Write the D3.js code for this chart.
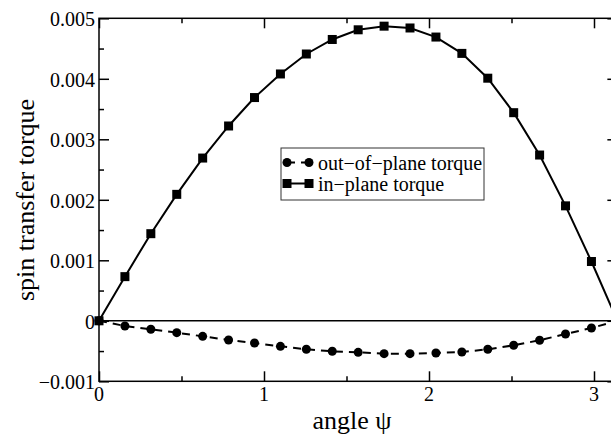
<!DOCTYPE html>
<html>
<head>
<meta charset="utf-8">
<script src="https://cdn.jsdelivr.net/npm/d3@7"></script>
<style>
	body{margin:0;background:#fff;}
	svg{display:block;font-family:'Liberation Serif',serif;}
	.axis path{display:none;}
	.axis line{stroke:#000;stroke-width:1.5;}
	.tick-label{font-size:20px;fill:#000;}
</style>
</head>
<body>
<div id="chart"></div>
<script>
//data, 21 angles from 0 to pi
const angles = d3.range(21).map(i => i*Math.PI/20);
const inPlane = [0,0.00073,0.00144,0.00209,0.00269,0.00322,0.00369,0.00408,0.00441,0.00465,0.00481,0.00487,0.00484,0.00469,0.00442,0.00401,0.00344,0.00274,0.00190,0.00098,0];
const outOfPlane = [0,-0.000086,-0.00014,-0.000196,-0.000257,-0.000317,-0.000367,-0.000422,-0.000471,-0.000504,-0.000521,-0.000543,-0.000543,-0.000532,-0.000516,-0.000471,-0.000405,-0.000322,-0.000218,-0.000119,0];
const seriesNames = ['out\u2212of\u2212plane torque','in\u2212plane torque'];
const xTicks = [0,1,2,3];
const yTicks = [-0.001,0,0.001,0.002,0.003,0.004,0.005];

const width = 611, height = 434;
const margin = {t:18.3,l:99};

const scaleX = d3.scaleLinear().domain([0,Math.PI]).range([margin.l, margin.l + 165*Math.PI]);
const scaleY = d3.scaleLinear().domain([-0.001,0.005]).range([381.3, margin.t]);
const x0 = scaleX.range()[0], x1 = scaleX.range()[1];
const y0 = scaleY.range()[0], y1 = scaleY.range()[1];

const svg = d3.select('#chart').append('svg')
	.attr('width',width)
	.attr('height',height);

//minor ticks every half step
const xMinor = d3.range(0.5,3.2,1);
const yMinor = d3.range(-0.0005,0.005,0.001);
const fmtY = d => d === 0 ? '0' : d3.format('.3f')(d);

//Axes: ticks inward on all four sides, labels drawn separately
const addAxis = (axis, tr) => svg.append('g').attr('class','axis').attr('transform',tr).call(axis.tickFormat(''));

addAxis(d3.axisBottom(scaleX).tickValues(xTicks).tickSize(-10), `translate(0,${y0})`);
addAxis(d3.axisBottom(scaleX).tickValues(xMinor).tickSize(-5), `translate(0,${y0})`);
addAxis(d3.axisTop(scaleX).tickValues(xTicks).tickSize(-10), `translate(0,${y1})`);
addAxis(d3.axisTop(scaleX).tickValues(xMinor).tickSize(-5), `translate(0,${y1})`);
addAxis(d3.axisLeft(scaleY).tickValues(yTicks).tickSize(-10), `translate(${x0},0)`);
addAxis(d3.axisLeft(scaleY).tickValues(yMinor).tickSize(-5), `translate(${x0},0)`);
addAxis(d3.axisRight(scaleY).tickValues(yTicks).tickSize(-10), `translate(${x1},0)`);
addAxis(d3.axisRight(scaleY).tickValues(yMinor).tickSize(-5), `translate(${x1},0)`);

//tick labels
svg.selectAll('.xlab').data(xTicks).enter().append('text')
	.attr('class','tick-label xlab')
	.attr('x', d => scaleX(d))
	.attr('y', y0 + 20)
	.attr('text-anchor','middle')
	.text(d => d);
svg.selectAll('.ylab').data(yTicks).enter().append('text')
	.attr('class','tick-label ylab')
	.attr('x', x0 - 4)
	.attr('y', d => scaleY(d))
	.attr('dy','0.4em')
	.attr('text-anchor','end')
	.text(fmtY);

//frame + zero line
svg.append('rect')
	.attr('x',x0).attr('y',y1)
	.attr('width',x1-x0).attr('height',y0-y1)
	.style('fill','none').style('stroke','#000').style('stroke-width',1.5);
svg.append('line')
	.attr('x1',x0).attr('x2',x1)
	.attr('y1',scaleY(0)).attr('y2',scaleY(0))
	.style('stroke','#000').style('stroke-width',1.5);

//Lines
const line = d3.line().x(d => scaleX(d[0])).y(d => scaleY(d[1]));
const inData = angles.map((a,i) => [a,inPlane[i]]);
const outData = angles.map((a,i) => [a,outOfPlane[i]]);

svg.append('path').datum(outData)
	.attr('d',line)
	.style('fill','none').style('stroke','#000').style('stroke-width',2)
	.style('stroke-dasharray','8,6');
svg.append('path').datum(inData)
	.attr('d',line)
	.style('fill','none').style('stroke','#000').style('stroke-width',2);

svg.selectAll('.dot').data(outData).enter().append('circle')
	.attr('class','dot')
	.attr('cx', d => scaleX(d[0]))
	.attr('cy', d => scaleY(d[1]))
	.attr('r',4.5);
svg.selectAll('.sq').data(inData).enter().append('rect')
	.attr('class','sq')
	.attr('x', d => scaleX(d[0]) - 4.5)
	.attr('y', d => scaleY(d[1]) - 4.5)
	.attr('width',9).attr('height',9);

//Legend
const legend = svg.append('g').attr('transform','translate(281,148)');
legend.append('rect')
	.attr('width',203).attr('height',52)
	.style('fill','#fff').style('stroke','#333').style('stroke-width',1);
const rows = legend.selectAll('.row').data(seriesNames).enter().append('g')
	.attr('class','row')
	.attr('transform',(d,i) => `translate(0,${14.5 + i*21})`);
rows.append('line')
	.attr('x1',6).attr('x2',28)
	.style('stroke','#000').style('stroke-width',2)
	.style('stroke-dasharray',(d,i) => i === 0 ? '8,6' : null);
rows.filter((d,i) => i === 0).selectAll('circle').data([6,28]).enter().append('circle')
	.attr('cx', d => d).attr('r',4.5);
rows.filter((d,i) => i === 1).selectAll('rect').data([6,28]).enter().append('rect')
	.attr('x', d => d - 4.5).attr('y',-4.5).attr('width',9).attr('height',9);
rows.append('text')
	.attr('x',37).attr('dy','0.35em')
	.style('font-size','20px')
	.text(d => d);

//Axis titles
svg.append('text')
	.attr('x',352).attr('y',429)
	.attr('text-anchor','middle')
	.style('font-size','26px')
	.text('angle \u03c8');
svg.append('text')
	.attr('transform','translate(34,200) rotate(-90)')
	.attr('text-anchor','middle')
	.style('font-size','26px')
	.text('spin transfer torque');
</script>
</body>
</html>
